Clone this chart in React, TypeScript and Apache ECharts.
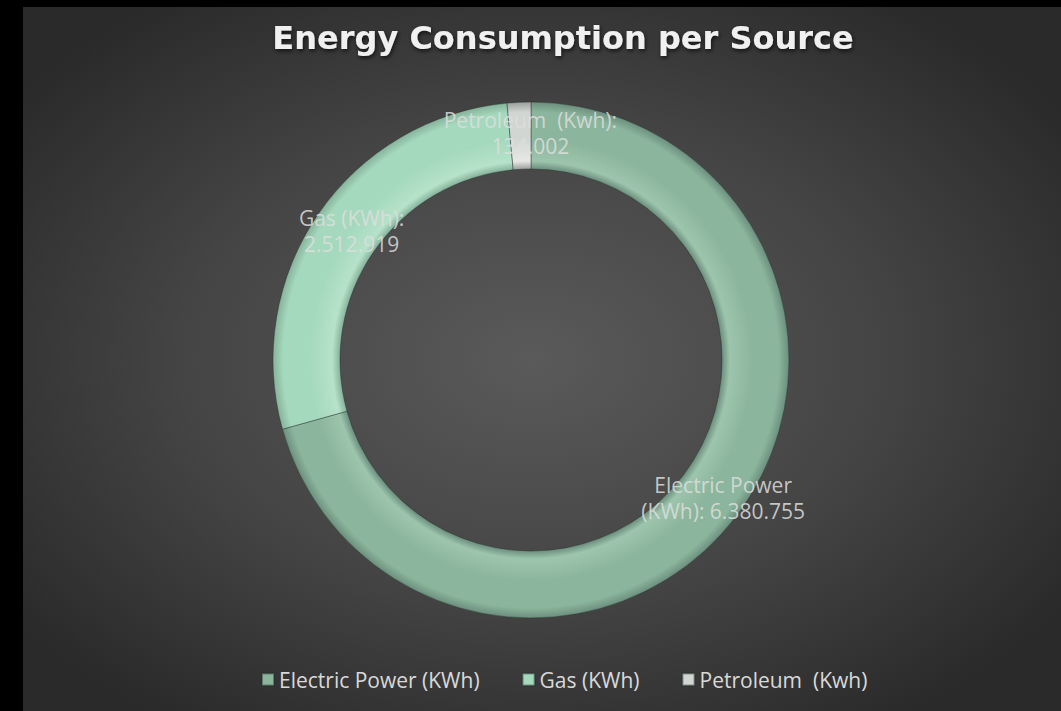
import React, { useEffect, useRef } from "react";
import * as echarts from "echarts";

// Energy consumption per source (kWh)
const sources = ["Electric Power (KWh)", "Gas (KWh)", "Petroleum  (Kwh)"];
const consumption = [6380755, 2512919, 134002];
// Label line layout: text before the line break, text after it
const labelHeads = ["Electric Power", "Gas (KWh):", "Petroleum  (Kwh):"];
const labelTails = ["(KWh): ", "", ""];

// Slice shading: [edge, body, highlight]
const sliceShades = [
  ["#6c8f7e", "#8bb59c", "#9dc5ad"],
  ["#86b29b", "#a5d9bd", "#b6e2ca"],
  ["#9c9f9c", "#d2d6d2", "#e6e8e6"],
];
// Small horizontal nudge of each data label (px, via left padding)
const labelNudge = [22, 16, 20];

const CX = 531;
const CY = 360;
const R_IN = 191;
const R_OUT = 258;

const fmt = (v: number) => String(v).replace(/\B(?=(\d{3})+(?!\d))/g, ".");

function tubeGradient(shade: string[]) {
  const a = R_IN / R_OUT;
  const span = 1 - a;
  return {
    type: "radial",
    x: CX,
    y: CY,
    r: R_OUT,
    global: true,
    colorStops: [
      { offset: 0, color: shade[0] },
      { offset: a, color: shade[0] },
      { offset: a + span * 0.12, color: shade[2] },
      { offset: a + span * 0.45, color: shade[1] },
      { offset: a + span * 0.85, color: shade[1] },
      { offset: 1, color: shade[0] },
    ],
  };
}

export default function App() {
  const ref = useRef<HTMLDivElement>(null);

  useEffect(() => {
    if (!ref.current) return;
    const chart = echarts.init(ref.current, undefined, { renderer: "svg" });
    chart.setOption({
      animation: false,
      backgroundColor: "#000000",
      graphic: [
        {
          type: "rect",
          z: -10,
          silent: true,
          shape: { x: 23, y: 7, width: 1038, height: 704 },
          style: {
            fill: {
              type: "radial",
              x: 0.49,
              y: 0.5,
              r: 0.62,
              colorStops: [
                { offset: 0, color: "#5a5a5a" },
                { offset: 0.55, color: "#444444" },
                { offset: 1, color: "#2a2a2a" },
              ],
            },
          },
        },
      ],
      title: {
        text: "Energy Consumption per Source",
        left: 558,
        top: 17,
        textAlign: "center",
        textStyle: {
          fontFamily: "DejaVu Sans",
          fontWeight: "bold",
          fontSize: 32,
          color: "#f0f0f0",
          textShadowColor: "rgba(0,0,0,0.7)",
          textShadowBlur: 4,
          textShadowOffsetX: 1,
          textShadowOffsetY: 2,
        },
      },
      legend: {
        left: 256,
        top: 664,
        itemWidth: 12,
        itemHeight: 12,
        itemGap: 42,
        icon: "rect",
        textStyle: {
          fontFamily: "Open Sans",
          fontSize: 21,
          color: "#d9d9d9",
        },
        data: sources.map((name, i) => ({
          name,
          itemStyle: { color: sliceShades[i][1] },
        })),
      },
      series: [
        {
          type: "pie",
          center: [CX, CY],
          radius: [R_IN, R_OUT],
          startAngle: 90,
          clockwise: true,
          avoidLabelOverlap: false,
          emphasis: { disabled: true },
          label: {
            show: true,
            position: "inside",
            fontFamily: "Open Sans",
            fontSize: 21,
            lineHeight: 26,
            color: "rgba(222,222,222,0.85)",
            formatter: (p: any) =>
              labelHeads[p.dataIndex] + "\n" + labelTails[p.dataIndex] + fmt(p.value),
          },
          labelLine: { show: false },
          itemStyle: {
            borderColor: "rgba(30,40,35,0.4)",
            borderWidth: 1,
          },
          data: sources.map((name, i) => ({
            name,
            value: consumption[i],
            itemStyle: { color: tubeGradient(sliceShades[i]) },
            label: { padding: [0, 0, 0, labelNudge[i]] },
          })),
        },
      ],
    });
    return () => chart.dispose();
  }, []);

  return (
    <div
      ref={ref}
      style={{ position: "fixed", left: 0, top: 0, width: 1061, height: 711 }}
    />
  );
}
